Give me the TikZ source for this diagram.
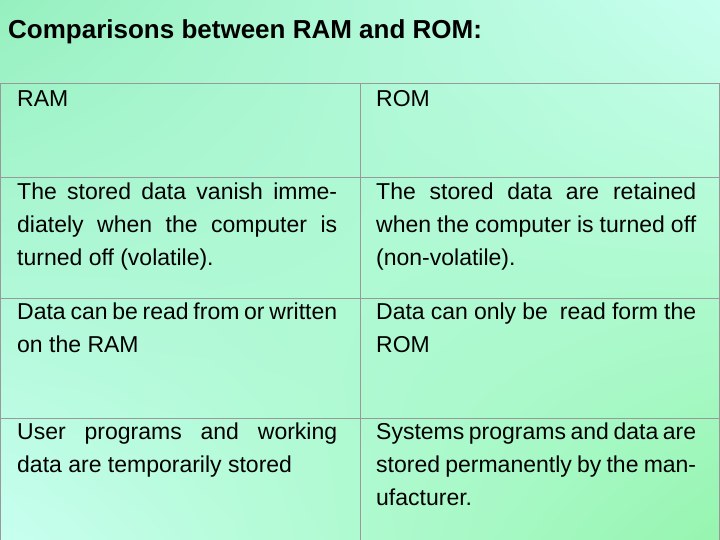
\documentclass[tikz,border=0pt]{standalone}
\usepackage{fontspec}
\setmainfont{Liberation Sans}
\usetikzlibrary{shadings}
\definecolor{bgA}{RGB}{150,240,190}
\definecolor{bgB}{RGB}{200,255,240}
\definecolor{bgC}{RGB}{150,245,175}
\begin{document}
\begin{tikzpicture}[x=1pt,y=-1pt,
  cell/.style={anchor=north west,text width=320pt,align=justify,inner sep=0pt,font=\fontsize{23}{33}\selectfont},
  grid/.style={draw=gray!80,line width=1pt}]
\useasboundingbox (0,0) rectangle (720,540);
\clip (0,0) rectangle (720,540);
\shade[upper left=bgA,upper right=bgB,lower left=bgB,lower right=bgC] (0,0) rectangle (720,540);
\node[anchor=west,font=\fontsize{26}{30}\selectfont\bfseries,inner sep=0pt] (title) at (8,32) {Comparisons between RAM and ROM:};
\draw[grid] (0,84) -- (720,84);
\draw[grid] (0,178) -- (720,178);
\draw[grid] (0,298) -- (720,298);
\draw[grid] (0,418) -- (720,418);
\draw[grid] (0.5,84) -- (0.5,540);
\draw[grid] (360,84) -- (360,540);
\draw[grid] (719.5,84) -- (719.5,540);
\node[cell] (a1) at (17,90) {RAM};
\node[cell] (b1) at (376,90) {ROM};
\node[cell] (a2) at (17,183) {The stored data vanish immediately when the computer is turned off (volatile).};
\node[cell] (b2) at (376,183) {The stored data are retained when the computer is turned off (non-volatile).};
\node[cell] (a3) at (17,303) {Data can be read from or written on the RAM};
\node[cell] (b3) at (376,303) {Data can only be\ \ read form the ROM};
\node[cell] (a4) at (17,423) {User programs and working data are temporarily stored};
\node[cell] (b4) at (376,423) {Systems programs and data are stored permanently by the manufacturer.};
\end{tikzpicture}
\end{document}
